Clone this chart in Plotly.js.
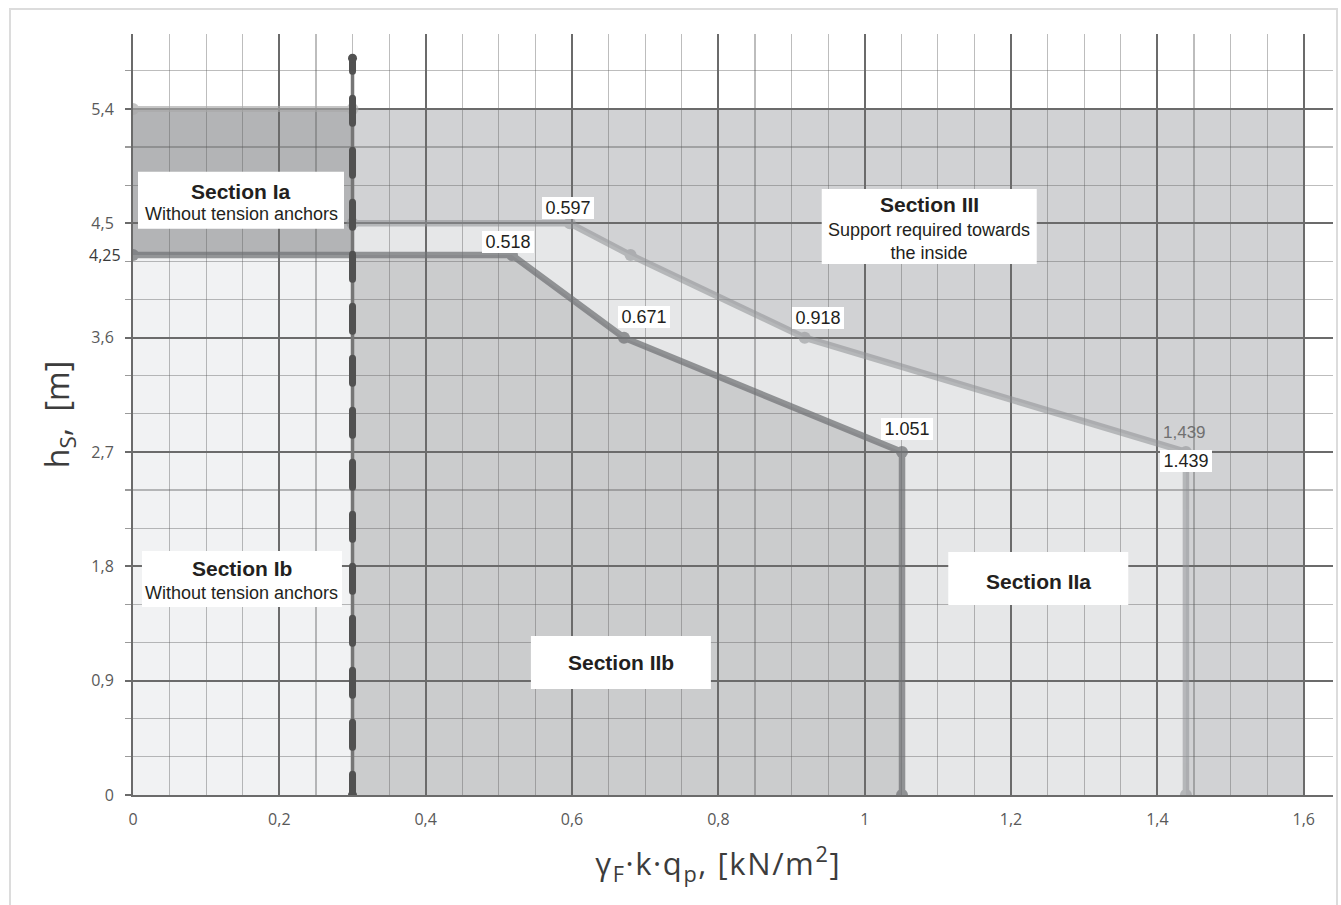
<!DOCTYPE html>
<html>
<head>
<meta charset="utf-8">
<script src="https://cdn.plot.ly/plotly-3.0.1.min.js"></script>
<style>
  html, body { margin: 0; padding: 0; background: #ffffff; }
  body { position: relative; width: 1341px; height: 905px; overflow: hidden; }
  #frame { position: absolute; left: 9px; top: 8px; width: 1329px; height: 1000px;
           border: 2px solid #dcdcdc; box-sizing: border-box; }
  #chart { position: absolute; left: 0; top: 0; width: 1341px; height: 905px; }
  #chart .annotation[data-index="0"] text { letter-spacing: 1.6px; }
</style>
</head>
<body>
<div id="frame"></div>
<div id="chart"></div>
<script>
// ---------------- data ----------------
// lower limit curve (Section IIb / IIa boundary)
const lowerX = [0, 0.518, 0.671, 1.051, 1.051];
const lowerY = [4.25, 4.25, 3.6, 2.7, 0];
// upper limit curve (Section IIa / III boundary)
const upperX = [0.3, 0.597, 0.68, 0.918, 1.439, 1.439];
const upperY = [4.5, 4.5, 4.25, 3.6, 2.7, 0];
// top limit of Section I
const topX = [0, 0.3];
const topY = [5.4, 5.4];
// boundary between Section I and II (dashed)
const boundaryX = [0.3, 0.3];
const boundaryY = [5.8, 0];
// extent of the shaded field
const fieldXMax = 1.6;
const fieldYMax = 5.4;
// labelled points
const labelX = [0.518, 0.597, 0.671, 0.918, 1.051, 1.439];
const labelY = [4.25, 4.5, 3.6, 3.6, 2.7, 2.7];
// section texts
const sectionNames = ['Section Ia', 'Section III', 'Section Ib', 'Section IIb', 'Section IIa'];
const sectionNotes = ['Without tension anchors', 'Support required towards<br>the inside',
                      'Without tension anchors', '', ''];
// axis texts
const xTitle = 'γ<sub>F</sub>·k·q<sub>p</sub>, [kN/m<sup>2</sup>]';
const yTitle = 'h<sub>S</sub>,  [m]';
const extraYTick = 4.25;

// ---------------- styles / placement ----------------
const labelShift = [[-4, 13], [-2, 15], [20, 21], [13, 20], [5, 23], [0, -9]];
const sectionBoxes = [ // anchor (data units), box size (px), title / note shifts (px)
  {x: 0.1476, y: 4.682, w: 206, h: 57, ts: 8.5, ns: -13.5},
  {x: 1.0882, y: 4.475, w: 215, h: 75, ts: 21.5, ns: -15.5},
  {x: 0.1489, y: 1.700, w: 200, h: 56, ts: 10.5, ns: -14},
  {x: 0.6668, y: 1.043, w: 180, h: 53, ts: 0, ns: 0},
  {x: 1.2372, y: 1.704, w: 180, h: 53, ts: -2.5, ns: 0}
];
const textFont = 'Liberation Sans, Arial, sans-serif';
const axisFont = 'Open Sans, sans-serif';

function polyPath(xs, ys) {
  return 'M' + xs.map((x, i) => x + ',' + ys[i]).join('L') + 'Z';
}

// polygons for the shaded sections
const bx = boundaryX[0];
const lowerRight = lowerX.map((x, i) => [x, lowerY[i]]).filter(p => p[0] > bx);
const iibX = [bx, bx].concat(lowerRight.map(p => p[0]));
const iibY = [0, lowerY[0]].concat(lowerRight.map(p => p[1]));
const iiaX = upperX.concat(lowerRight.slice().reverse().map(p => p[0]), [bx]);
const iiaY = upperY.concat(lowerRight.slice().reverse().map(p => p[1]), [lowerY[0]]);

const shapes = [
  {type: 'rect', xref: 'x', yref: 'y', x0: bx, x1: fieldXMax, y0: 0, y1: fieldYMax,
   fillcolor: '#d1d2d4', line: {width: 0}, layer: 'below'},
  {type: 'rect', xref: 'x', yref: 'y', x0: 0, x1: bx, y0: lowerY[0], y1: fieldYMax,
   fillcolor: '#b3b4b6', line: {width: 0}, layer: 'below'},
  {type: 'rect', xref: 'x', yref: 'y', x0: 0, x1: bx, y0: 0, y1: lowerY[0],
   fillcolor: '#f1f2f3', line: {width: 0}, layer: 'below'},
  {type: 'path', xref: 'x', yref: 'y', path: polyPath(iibX, iibY),
   fillcolor: '#cbcccd', line: {width: 0}, layer: 'below'},
  {type: 'path', xref: 'x', yref: 'y', path: polyPath(iiaX, iiaY),
   fillcolor: '#e6e7e8', line: {width: 0}, layer: 'below'}
];
// white boxes behind the section texts
sectionBoxes.forEach(b => {
  shapes.push({type: 'rect', xref: 'x', yref: 'y', xsizemode: 'pixel', ysizemode: 'pixel',
    xanchor: b.x, yanchor: b.y, x0: -b.w / 2, x1: b.w / 2, y0: -b.h / 2, y1: b.h / 2,
    fillcolor: '#ffffff', line: {width: 0}, layer: 'above'});
});

// dash pattern for the boundary line (round caps added after render)
const dashParts = ['13px', '27px'];
for (let i = 0; i < 16; i++) { dashParts.push('25px', '27px'); }
const boundaryDash = dashParts.join(',');

const traces = [
  {x: topX, y: topY, mode: 'lines+markers', opacity: 0.65,
   line: {color: '#a9a9a9', width: 6}, marker: {color: '#a9a9a9', size: 12}, hoverinfo: 'skip'},
  {x: lowerX, y: lowerY, mode: 'lines+markers', opacity: 0.72,
   line: {color: '#707275', width: 6.5}, marker: {color: '#707275', size: 12}, hoverinfo: 'skip'},
  {x: upperX, y: upperY, mode: 'lines+markers', opacity: 0.55,
   line: {color: '#8e9093', width: 6.5}, marker: {color: '#8e9093', size: 12}, hoverinfo: 'skip'},
  {x: boundaryX, y: boundaryY, mode: 'lines',
   line: {color: '#767676', width: 3.5}, hoverinfo: 'skip'},
  {x: boundaryX, y: boundaryY, mode: 'lines+markers',
   line: {color: '#515151', width: 7, dash: boundaryDash},
   marker: {color: '#515151', size: 9}, hoverinfo: 'skip'}
];

const annotations = [];
// x axis title (index 0, letter spacing set in CSS)
annotations.push({
  x: 0.4875, xref: 'paper', y: 0, yref: 'paper', yanchor: 'middle', yshift: -68,
  showarrow: false, text: xTitle,
  font: {family: axisFont, size: 31, color: '#3c3c3c'}
});
labelX.forEach((x, i) => {
  annotations.push({
    x: x, y: labelY[i], xref: 'x', yref: 'y', showarrow: false,
    text: x.toFixed(3), xshift: labelShift[i][0], yshift: labelShift[i][1],
    font: {family: textFont, size: 18, color: '#231f20'},
    bgcolor: '#ffffff', borderwidth: 0, borderpad: 0, width: 52, height: 22
  });
});
// second, comma formatted label of the last point
annotations.push({
  x: labelX[5], y: labelY[5], xref: 'x', yref: 'y', showarrow: false,
  text: labelX[5].toFixed(3).replace('.', ','), xshift: -1, yshift: 19,
  font: {family: textFont, size: 17, color: '#707070'}
});
sectionNames.forEach((name, i) => {
  const b = sectionBoxes[i];
  annotations.push({
    x: b.x, y: b.y, xref: 'x', yref: 'y', showarrow: false, yshift: b.ts,
    text: name, font: {family: textFont, size: 21, weight: 'bold', color: '#231f20'}
  });
  if (sectionNotes[i]) {
    annotations.push({
      x: b.x, y: b.y, xref: 'x', yref: 'y', showarrow: false, yshift: b.ns, align: 'center',
      text: sectionNotes[i], font: {family: textFont, size: 18, color: '#231f20'}
    });
  }
});
// extra y tick label at 4,25
annotations.push({
  x: 0, xref: 'paper', y: extraYTick, yref: 'y', xanchor: 'right', showarrow: false,
  xshift: -10, text: extraYTick.toFixed(2).replace('.', ','),
  font: {family: axisFont, size: 16, color: '#3a3a3a'}
});

const layout = {
  width: 1341, height: 905,
  margin: {l: 133, r: 8, t: 34, b: 110},
  paper_bgcolor: 'rgba(0,0,0,0)', plot_bgcolor: '#ffffff',
  separators: ', ',
  showlegend: false, hovermode: false,
  xaxis: {
    range: [0, 1.64], tick0: 0, dtick: 0.2, automargin: false, fixedrange: true,
    showgrid: true, gridcolor: '#6b6b6b', gridwidth: 2,
    zeroline: false, showline: true, linecolor: '#6b6b6b', linewidth: 2,
    ticks: '', ticklabelstandoff: 9,
    tickfont: {family: axisFont, size: 16, color: '#595959'},
    minor: {dtick: 0.05, showgrid: true, gridcolor: 'rgba(90,90,90,0.4)', gridwidth: 1.2}
  },
  yaxis: {
    range: [0, 5.99], tick0: 0, dtick: 0.9, automargin: false, fixedrange: true,
    showgrid: true, gridcolor: '#6b6b6b', gridwidth: 2,
    zeroline: false, showline: true, linecolor: '#6b6b6b', linewidth: 2,
    ticks: 'outside', ticklen: 6, tickwidth: 2, tickcolor: '#6b6b6b', ticklabelstandoff: 8,
    tickfont: {family: axisFont, size: 16, color: '#595959'},
    minor: {dtick: 0.3, showgrid: true, gridcolor: 'rgba(90,90,90,0.4)', gridwidth: 1.2,
            ticks: 'outside', ticklen: 6, tickwidth: 1.2, tickcolor: '#9a9a9a'},
    title: {text: yTitle, font: {family: axisFont, size: 32, color: '#3c3c3c'}, standoff: 12}
  },
  shapes: shapes,
  annotations: annotations
};

Plotly.newPlot('chart', traces, layout, {staticPlot: true, displayModeBar: false}).then(gd => {
  const tr = gd.querySelectorAll('.scatterlayer .trace');
  const dashed = tr[4] && tr[4].querySelector('path.js-line');
  if (dashed) dashed.style.strokeLinecap = 'round';
});
</script>
</body>
</html>
